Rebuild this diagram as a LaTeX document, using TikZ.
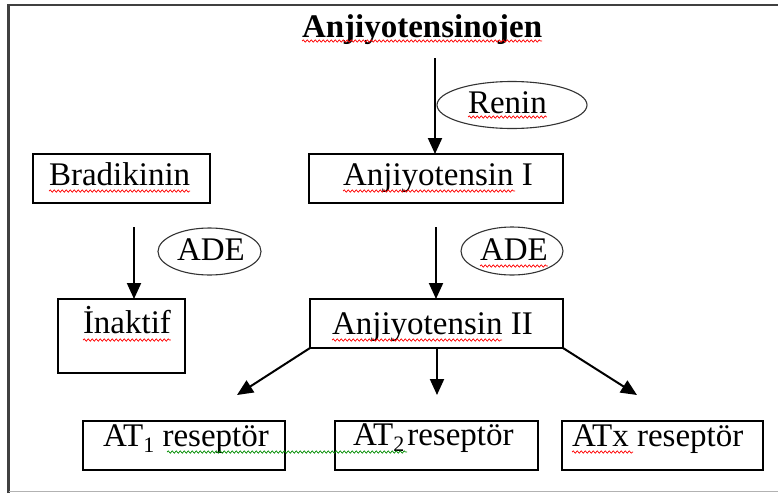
\documentclass[tikz,border=0pt]{standalone}
\usepackage{fontspec}
\setmainfont{Liberation Serif}
\usetikzlibrary{arrows.meta,shapes.geometric,decorations.pathmorphing}
\begin{document}
\begin{tikzpicture}[x=1pt,y=-1pt,
  box/.style={draw=black,line width=1.4pt,rectangle,inner sep=0pt,outer sep=0pt},
  oval/.style={draw=black!80,line width=1.1pt,ellipse,inner sep=0pt,outer sep=0pt},
  txt/.style={inner sep=0pt,outer sep=0pt,anchor=base west,font=\fontsize{33}{36}\selectfont},
  arr/.style={line width=2pt,-{Triangle[length=16pt,width=14pt]}},
  redwave/.style={draw=red,line width=0.7pt,decorate,decoration={snake,segment length=4pt,amplitude=1.2pt}},
  greenwave/.style={draw=green!55!black,line width=0.7pt,decorate,decoration={snake,segment length=4pt,amplitude=1.2pt}}]
\useasboundingbox (0,0) rectangle (778,493);
% frame
\draw[black!75,line width=2.5pt] (8.5,493) -- (8.5,5) -- (778,5);
\draw[black!30,line width=1.5pt] (8.5,491.5) -- (778,491.5);

% boxes
\node[box,minimum width=177pt,minimum height=49pt] (brad) at (121.5,178.5) {};
\node[box,minimum width=254pt,minimum height=49pt] (a1) at (436,178.5) {};
\node[box,minimum width=127pt,minimum height=74pt] (inak) at (121.5,336) {};
\node[box,minimum width=253pt,minimum height=49pt] (a2) at (436.5,323.5) {};
\node[box,minimum width=202pt,minimum height=49pt] (at1) at (184,445.5) {};
\node[box,minimum width=203pt,minimum height=49pt] (at2) at (436.5,445.5) {};
\node[box,minimum width=201pt,minimum height=49pt] (atx) at (662.5,445.5) {};

% ellipses
\node[oval,minimum width=150pt,minimum height=47pt] (renin) at (512,105) {};
\node[oval,minimum width=103pt,minimum height=47pt] (ade1) at (209.5,251.5) {};
\node[oval,minimum width=102pt,minimum height=48pt] (ade2) at (512,251) {};

% texts
\node[txt,font=\fontsize{33}{36}\selectfont\bfseries] (ttitle) at (302,37) {Anjiyotensinojen};
\node[txt] (trenin) at (468,113) {Renin};
\node[txt] (tbrad) at (49,185) {Bradikinin};
\node[txt] (ta1) at (343,185) {Anjiyotensin I};
\node[txt] (tade1) at (177,260) {ADE};
\node[txt] (tade2) at (480,260) {ADE};
\node[txt] (tinak) at (83,333) {İnaktif};
\node[txt] (ta2) at (332,334) {Anjiyotensin II};
\node[txt] (tat1) at (103,446) {AT\raisebox{-6pt}{\fontsize{22}{22}\selectfont 1} reseptör};
\node[txt] (tat2) at (353,445) {AT\raisebox{-6pt}{\fontsize{22}{22}\selectfont 2}\hspace{3pt}reseptör};
\node[txt] (tatx) at (572,446) {ATx reseptör};

% arrows
\coordinate (s0) at (435,58);
\coordinate (s1) at (134,227);
\coordinate (s2) at (436,227);
\coordinate (e1) at (237,395);
\coordinate (e2) at (437,395);
\coordinate (e3) at (637,395);
\draw[arr] (s0) -- (s0 |- a1.north);
\draw[arr] (s1) -- (s1 |- inak.north);
\draw[arr] (s2) -- (s2 |- a2.north);
\draw[arr] (a2.south west) -- (e1);
\draw[arr] (e2 |- a2.south) -- (e2);
\draw[arr] (a2.south east) -- (e3);

% spell-check underlines
\draw[redwave] ([yshift=-4pt]ttitle.base west) -- ([yshift=-4pt]ttitle.base east);
\draw[redwave] ([yshift=-4pt]trenin.base west) -- ([yshift=-4pt]trenin.base east);
\draw[redwave] ([yshift=-6pt]tbrad.base west) -- ([yshift=-6pt]tbrad.base east);
\draw[redwave] (343,191) -- (515,191);
\draw[redwave] ([yshift=-6pt]tade2.base west) -- ([yshift=-6pt]tade2.base east);
\draw[redwave] ([yshift=-7pt]tinak.base west) -- ([yshift=-7pt]tinak.base east);
\draw[redwave] (332,340) -- (502,340);
\draw[redwave] (572,452) -- (633,452);
\draw[greenwave] (167,452) -- (407,452);
\end{tikzpicture}
\end{document}
